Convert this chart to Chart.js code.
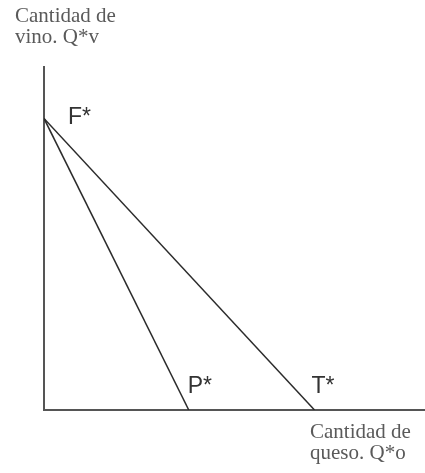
<!DOCTYPE html>
<html>
<head>
<meta charset="utf-8">
<script src="https://cdn.jsdelivr.net/npm/chart.js@4/dist/chart.umd.min.js"></script>
<style>
  html, body { margin: 0; padding: 0; background: #fff; }
  #wrap { width: 425px; height: 473px; position: relative; }
</style>
</head>
<body>
<div id="wrap"><canvas id="c" width="425" height="473"></canvas></div>
<script>
// Data (arbitrary units)
const pointNames = ['F*', 'P*', 'T*'];
const vinoF = 8.5;      // F*: intercept on the wine axis
const quesoP = 3.8;     // P*: intercept on the cheese axis
const quesoT = 7.1;     // T*: intercept on the cheese axis
const yAxisTitle = ['Cantidad de', 'vino. Q*v'];
const xAxisTitle = ['Cantidad de', 'queso. Q*o'];

const lineFP = [{x: 0, y: vinoF}, {x: quesoP, y: 0}];
const lineFT = [{x: 0, y: vinoF}, {x: quesoT, y: 0}];

const labelPlugin = {
  id: 'labels',
  afterDraw(chart) {
    const ctx = chart.ctx;
    const xs = chart.scales.x, ys = chart.scales.y;
    const ca = chart.chartArea;
    ctx.save();
    ctx.textBaseline = 'alphabetic';
    ctx.textAlign = 'left';
    // point labels
    ctx.fillStyle = '#333';
    ctx.font = '23px "Liberation Sans", Arial, sans-serif';
    const pts = [
      {x: 0, y: vinoF, dx: 24, dy: 6},
      {x: quesoP, y: 0, dx: -1, dy: -17},
      {x: quesoT, y: 0, dx: -3, dy: -17}
    ];
    pts.forEach((p, i) => {
      ctx.fillText(pointNames[i], xs.getPixelForValue(p.x) + p.dx, ys.getPixelForValue(p.y) + p.dy);
    });
    // axis titles
    ctx.fillStyle = '#5a5a5a';
    ctx.font = '21px "Liberation Serif", "Times New Roman", serif';
    ctx.fillText(yAxisTitle[0], ca.left - 29, ca.top - 45);
    ctx.fillText(yAxisTitle[1], ca.left - 29, ca.top - 24);
    ctx.fillText(xAxisTitle[0], 310, ca.bottom + 28);
    ctx.fillText(xAxisTitle[1], 310, ca.bottom + 49);
    ctx.restore();
  }
};

new Chart(document.getElementById('c'), {
  type: 'scatter',
  data: {
    datasets: [
      { data: lineFP, showLine: true, borderColor: '#2b2b2b', borderWidth: 1.5, pointRadius: 0, fill: false },
      { data: lineFT, showLine: true, borderColor: '#2b2b2b', borderWidth: 1.5, pointRadius: 0, fill: false }
    ]
  },
  options: {
    responsive: false,
    animation: false,
    devicePixelRatio: 1,
    layout: { padding: { left: 44, top: 67, right: 0, bottom: 63 } },
    plugins: { legend: { display: false }, tooltip: { enabled: false } },
    scales: {
      x: {
        type: 'linear', min: 0, max: 10,
        grid: { display: false, drawTicks: false },
        ticks: { display: false },
        border: { display: true, color: '#555', width: 2 }
      },
      y: {
        type: 'linear', min: 0, max: 10,
        grid: { display: false, drawTicks: false },
        ticks: { display: false },
        border: { display: true, color: '#555', width: 2 }
      }
    }
  },
  plugins: [labelPlugin]
});
</script>
</body>
</html>
